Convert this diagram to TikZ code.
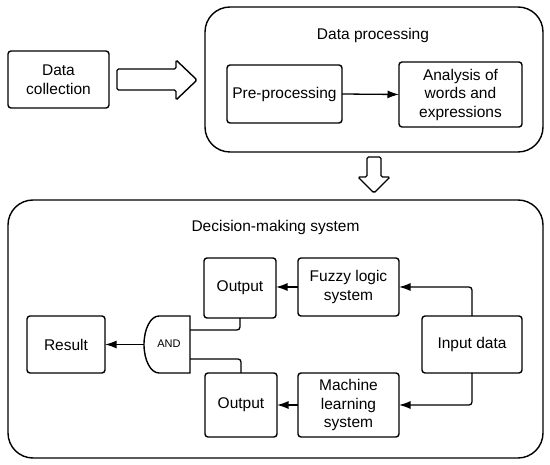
\documentclass[tikz,border=0pt]{standalone}
\usepackage{fontspec}
\setmainfont{Liberation Sans}
\usetikzlibrary{arrows.meta}
\begin{document}
\begin{tikzpicture}[x=1pt,y=-1pt,
  every node/.style={font=\fontsize{15.5}{18.5}\selectfont, align=center, outer sep=0pt, inner sep=0pt},
  box/.style={draw, line width=1.4pt, rounded corners=3pt},
  big/.style={draw, line width=1.4pt, rounded corners=25pt},
  conn/.style={line width=1.3pt},
  arr/.style={line width=1.3pt, -{Latex[length=11.5pt,width=8pt]}},
  blockarrow/.style={draw, line width=1.4pt, rounded corners=1.5pt, fill=white}]
\useasboundingbox (0,0) rectangle (550,465);
% containers
\node[big, minimum width=338pt, minimum height=145pt] (dp) at (374,79.5) {};
\node[big, minimum width=535pt, minimum height=258pt] (dm) at (275.5,329) {};
\node (dpt) at (373,35) {Data processing};
\node (dmt) at (275.5,227) {Decision-making system};
% top row
\node[box, minimum width=101pt, minimum height=57pt] (dc) at (58.5,79.5) {Data\\collection};
\node[box, minimum width=115pt, minimum height=58pt] (pre) at (284.5,94) {Pre-processing};
\node[box, minimum width=123pt, minimum height=65pt] (an) at (460.5,94.5) {Analysis of\\words and\\expressions};
\draw[arr] (pre.east) -- (an.west);
% block arrows
\draw[blockarrow] (117,69) -- (176,69) -- (176,60) -- (197,80) -- (176,100) -- (176,90) -- (117,90) -- cycle;
\draw[blockarrow] (367,157) -- (381,157) -- (381,177) -- (390,177) -- (374,193) -- (358,177) -- (367,177) -- cycle;
% decision system
\node[box, minimum width=72pt, minimum height=60pt] (o1) at (240,288) {Output};
\node[box, minimum width=72pt, minimum height=64pt] (o2) at (241,405) {Output};
\node[box, minimum width=101pt, minimum height=58pt] (fz) at (348.5,287) {Fuzzy logic\\system};
\node[box, minimum width=101pt, minimum height=64pt] (ml) at (348.5,405) {Machine\\learning\\system};
\node[box, minimum width=100pt, minimum height=57pt] (in) at (472,344.5) {Input data};
\node[box, minimum width=78pt, minimum height=57pt] (res) at (66,344.5) {Result};
% AND gate
\draw[line width=1.4pt] (190,316) -- (159,316) arc[start angle=270, end angle=90, x radius=15, y radius=28.5] -- (190,373) -- cycle;
\node[font=\fontsize{11}{13}\selectfont] (and) at (169,344) {AND};
\coordinate (andL) at (144,344.5);
\coordinate (andT) at (190,330);
\coordinate (andB) at (190,359);
% connectors
\draw[arr] (andL) -- (res.east);
\draw[conn, rounded corners=3pt] (andT) -- (andT -| o1.south) -- (o1.south);
\draw[conn, rounded corners=3pt] (andB) -- (andB -| o2.north) -- (o2.north);
\draw[arr, rounded corners=3pt] (in.north) |- (fz.east);
\draw[arr, rounded corners=3pt] (in.south) |- (ml.east);
\draw[arr] (fz.west) -- (fz.west -| o1.east);
\draw[arr] (ml.west) -- (ml.west -| o2.east);
\end{tikzpicture}
\end{document}
